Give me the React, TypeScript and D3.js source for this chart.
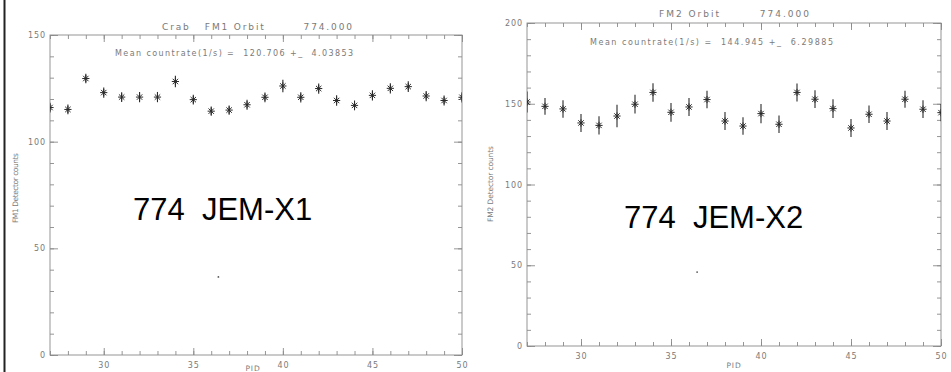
import React, { useEffect, useRef } from "react";
import * as d3 from "d3";

const width = 951;
const height = 372;

// PID bins on the x axis
const pid = [27, 28, 29, 30, 31, 32, 33, 34, 35, 36, 37, 38, 39, 40, 41, 42, 43, 44, 45, 46, 47, 48, 49, 50];

// JEM-X1 (FM1) detector counts per PID, with error
const fm1Counts = [116.0, 115.1, 129.6, 123.0, 120.9, 120.9, 120.9, 128.2, 119.7, 114.3, 114.8, 117.3, 120.8, 126.1, 120.8, 124.9, 119.3, 117.0, 121.7, 125.0, 125.8, 121.4, 119.3, 120.8];
const fm1Errors = [2.3, 2.3, 2.2, 2.4, 2.3, 2.4, 2.4, 2.7, 2.3, 2.2, 2.2, 2.3, 2.3, 2.9, 2.4, 2.4, 2.5, 2.3, 2.4, 2.4, 2.5, 2.4, 2.3, 2.4];

// JEM-X2 (FM2) detector counts per PID, with error
const fm2Counts = [151.1, 148.4, 146.8, 138.1, 136.6, 142.4, 149.7, 157.0, 144.7, 148.0, 152.6, 139.3, 136.2, 143.9, 137.3, 157.0, 152.8, 147.0, 135.0, 143.5, 139.3, 152.8, 146.6, 144.5];
const fm2Errors = [6.5, 5.2, 5.4, 5.6, 5.6, 7.0, 5.8, 5.7, 5.8, 5.6, 5.4, 5.6, 5.4, 5.9, 5.4, 5.6, 5.5, 5.8, 5.6, 5.4, 5.6, 5.3, 5.5, 5.4];

// stray points left on the scanned plots
const fm1Stray = [{ pid: 36.4, count: 36.6 }];
const fm2Stray = [{ pid: 36.45, count: 45.8 }];

const xMajor = [30, 35, 40, 45, 50];

const axisGrey = "#8a8a8a";
const textGrey = "#7a7a7a";
const markColor = "#2a2a2a";
const hershey = "'DejaVu Sans', sans-serif";

type PanelProps = {
  id: string;
  left: number;
  right: number;
  top: number;
  bottom: number;
  yMax: number;
  counts: number[];
  errors: number[];
  stray: { pid: number; count: number }[];
  title: string;
  titleX: number;
  titleY: number;
  titleLen: number;
  mean: string;
  meanX: number;
  meanY: number;
  meanLen: number;
  yLabel: string;
  yLabelX: number;
  yLabelY: number;
  yLabelLen: number;
  pidX: number;
  pidY: number;
  big: string;
  bigX: number;
  bigY: number;
};

function Panel(p: PanelProps) {
  const xMinorRef = useRef<SVGGElement>(null);
  const xMajorRef = useRef<SVGGElement>(null);
  const xTopMinorRef = useRef<SVGGElement>(null);
  const xTopMajorRef = useRef<SVGGElement>(null);
  const yMinorRef = useRef<SVGGElement>(null);
  const yMajorRef = useRef<SVGGElement>(null);
  const yRightMinorRef = useRef<SVGGElement>(null);
  const yRightMajorRef = useRef<SVGGElement>(null);

  const x = d3.scaleLinear().domain([27, 50]).range([p.left, p.right]);
  const y = d3.scaleLinear().domain([0, p.yMax]).range([p.bottom, p.top]);

  const yMinorVals = d3.range(0, p.yMax + 1, 10);
  const yMajorVals = d3.range(0, p.yMax + 1, 50);

  useEffect(() => {
    const style = (g: d3.Selection<SVGGElement, unknown, null, undefined>) => {
      g.select(".domain").remove();
      g.selectAll("line").attr("stroke", axisGrey).attr("stroke-width", 0.9);
      g.selectAll("text")
        .attr("fill", textGrey)
        .attr("font-family", hershey)
        .attr("font-size", 8)
        .attr("letter-spacing", 0.9);
    };

    d3.select(xMinorRef.current!)
      .call(d3.axisBottom(x).tickValues(pid).tickSize(-4).tickFormat(() => ""))
      .call(style);
    d3.select(xMajorRef.current!)
      .call(d3.axisBottom(x).tickValues(xMajor).tickSize(-7).tickPadding(7).tickFormat(d3.format("d")))
      .call(style);
    d3.select(xTopMinorRef.current!)
      .call(d3.axisTop(x).tickValues(pid).tickSize(-4).tickFormat(() => ""))
      .call(style);
    d3.select(xTopMajorRef.current!)
      .call(d3.axisTop(x).tickValues(xMajor).tickSize(-7).tickFormat(() => ""))
      .call(style);
    d3.select(yMinorRef.current!)
      .call(d3.axisLeft(y).tickValues(yMinorVals).tickSize(-4).tickFormat(() => ""))
      .call(style);
    d3.select(yMajorRef.current!)
      .call(d3.axisLeft(y).tickValues(yMajorVals).tickSize(-8).tickPadding(4).tickFormat(d3.format("d")))
      .call(style);
    d3.select(yRightMinorRef.current!)
      .call(d3.axisRight(y).tickValues(yMinorVals).tickSize(-4).tickFormat(() => ""))
      .call(style);
    d3.select(yRightMajorRef.current!)
      .call(d3.axisRight(y).tickValues(yMajorVals).tickSize(-8).tickFormat(() => ""))
      .call(style);
  });

  const arm = 3.6;
  const diag = arm * 0.75;
  const star = `M0,${-arm}V${arm}M${-arm},0H${arm}M${-diag},${-diag}L${diag},${diag}M${-diag},${diag}L${diag},${-diag}`;

  return (
    <g>
      <defs>
        <clipPath id={`clip-${p.id}`}>
          <rect x={p.left} y={p.top - 10} width={p.right - p.left} height={p.bottom - p.top + 10} />
        </clipPath>
      </defs>
      <rect
        x={p.left}
        y={p.top}
        width={p.right - p.left}
        height={p.bottom - p.top}
        fill="none"
        stroke={axisGrey}
        strokeWidth={0.9}
      />
      <g ref={xMinorRef} transform={`translate(0,${p.bottom})`} />
      <g ref={xMajorRef} transform={`translate(0,${p.bottom})`} />
      <g ref={xTopMinorRef} transform={`translate(0,${p.top})`} />
      <g ref={xTopMajorRef} transform={`translate(0,${p.top})`} />
      <g ref={yMinorRef} transform={`translate(${p.left},0)`} />
      <g ref={yMajorRef} transform={`translate(${p.left},0)`} />
      <g ref={yRightMinorRef} transform={`translate(${p.right},0)`} />
      <g ref={yRightMajorRef} transform={`translate(${p.right},0)`} />

      <g clipPath={`url(#clip-${p.id})`} stroke={markColor} fill="none">
        {p.counts.map((c, i) => (
          <g key={i}>
            <line
              x1={x(pid[i])}
              x2={x(pid[i])}
              y1={y(c - p.errors[i])}
              y2={y(c + p.errors[i])}
              strokeWidth={1.1}
            />
            <path d={star} transform={`translate(${x(pid[i])},${y(c)})`} strokeWidth={1} />
          </g>
        ))}
        {p.stray.map((s, i) => (
          <circle key={i} cx={x(s.pid)} cy={y(s.count)} r={0.9} fill="#555" stroke="none" />
        ))}
      </g>

      <text
        x={p.titleX}
        y={p.titleY}
        textAnchor="middle"
        fill={textGrey}
        fontFamily={hershey}
        fontSize={9}
        textLength={p.titleLen}
        lengthAdjust="spacing"
        style={{ whiteSpace: "pre" }}
      >
        {p.title}
      </text>
      <text
        x={p.meanX}
        y={p.meanY}
        fill={textGrey}
        fontFamily={hershey}
        fontSize={8}
        textLength={p.meanLen}
        lengthAdjust="spacing"
        style={{ whiteSpace: "pre" }}
      >
        {p.mean}
      </text>
      <text
        transform={`translate(${p.yLabelX},${p.yLabelY}) rotate(-90)`}
        textAnchor="middle"
        fill={textGrey}
        fontFamily={hershey}
        fontSize={7.5}
        textLength={p.yLabelLen}
        lengthAdjust="spacing"
      >
        {p.yLabel}
      </text>
      <text
        x={p.pidX}
        y={p.pidY}
        textAnchor="middle"
        fill={textGrey}
        fontFamily={hershey}
        fontSize={7.5}
        letterSpacing={0.9}
      >
        PID
      </text>
      <text
        x={p.bigX}
        y={p.bigY}
        fill="#000"
        fontFamily="'Liberation Sans', Arial, sans-serif"
        fontSize={31}
        style={{ whiteSpace: "pre" }}
      >
        {p.big}
      </text>
    </g>
  );
}

export default function App() {
  return (
    <svg
      width={width}
      height={height}
      style={{ position: "absolute", left: 0, top: 0, background: "#fff" }}
    >
      <rect x={0} y={0} width={width} height={height} fill="#fff" />
      <line x1={4.5} x2={4.5} y1={0} y2={height} stroke="#222" strokeWidth={2} />
      <Panel
        id="fm1"
        left={50}
        right={462}
        top={35}
        bottom={355}
        yMax={150}
        counts={fm1Counts}
        errors={fm1Errors}
        stray={fm1Stray}
        title={"Crab   FM1 Orbit        774.000"}
        titleX={257}
        titleY={30}
        titleLen={190}
        mean={"Mean countrate(1/s) =  120.706 +_  4.03853"}
        meanX={115}
        meanY={56}
        meanLen={238}
        yLabel="FM1 Detector counts"
        yLabelX={18}
        yLabelY={188}
        yLabelLen={70}
        pidX={253}
        pidY={371}
        big={"774  JEM-X1"}
        bigX={133}
        bigY={220}
      />
      <Panel
        id="fm2"
        left={527}
        right={941}
        top={23}
        bottom={346}
        yMax={200}
        counts={fm2Counts}
        errors={fm2Errors}
        stray={fm2Stray}
        title={"FM2 Orbit        774.000"}
        titleX={734}
        titleY={17}
        titleLen={150}
        mean={"Mean countrate(1/s) =  144.945 +_  6.29885"}
        meanX={590}
        meanY={45}
        meanLen={243}
        yLabel="FM2 Detector counts"
        yLabelX={493}
        yLabelY={184}
        yLabelLen={76}
        pidX={734}
        pidY={368}
        big={"774  JEM-X2"}
        bigX={624}
        bigY={228}
      />
    </svg>
  );
}
